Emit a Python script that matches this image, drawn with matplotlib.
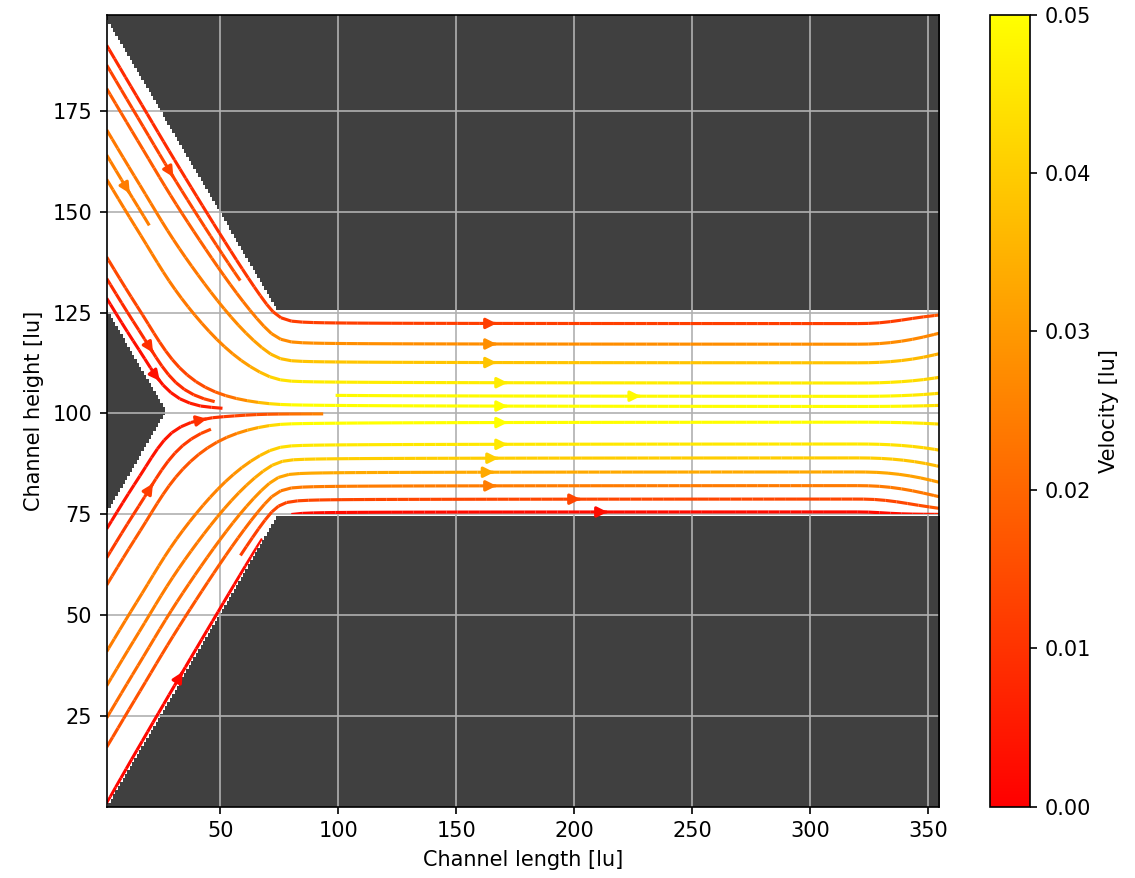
import numpy as np
import matplotlib
matplotlib.use("Agg")
import matplotlib.pyplot as plt
from matplotlib.colors import Normalize, ListedColormap
from matplotlib.patches import Polygon

# ---- domain and junction geometry (lattice units) ----
x_limits = [1.9, 354.5]
y_limits = [2.4, 198.9]
y_center = 100.25        # symmetry line of the junction
half_width = 25.25       # half height of the outlet channel
wedge_tip_x = 27.0       # end of the dividing wedge between the inlets
outer_wall_offset = 0.75 # lower outer inlet wall: y = x + offset
u_center = 0.05          # centreline velocity in the outlet channel

# streamline seed points: outlet channel first, then the two inlets
seed_x = [160, 160, 160, 160, 160, 160, 160, 160, 160, 160, 205, 222,
          3.5, 3.5, 3.5, 3.5, 3.5, 3.5, 40, 47, 12, 16, 62, 40,
          3.5, 3.5, 3.5, 3.5, 3.5, 3.5, 12,
          3.5, 3.5, 3.5, 20, 20]
seed_y = [75.5, 82.0, 92.3, 97.7, 101.8, 104.3, 107.6, 112.6, 117.2, 122.3,
          78.7, 88.9,
          4.9, 12.8, 26.0, 35.1, 43.8, 57.0, 87.6, 71.9, 37.2, 84.5, 81.0,
          101.2,
          193.5, 184.8, 171.5, 162.5, 153.8, 140.5, 151.0,
          131.9, 127.0, 65.7, 115.0, 85.0]

# colour scale of the velocity magnitude
v_limits = [0.0, 0.05]
cbar_ticks = [0.00, 0.01, 0.02, 0.03, 0.04, 0.05]
x_ticks = [50, 100, 150, 200, 250, 300, 350]
y_ticks = [25, 50, 75, 100, 125, 150, 175]

wall_color = "#404040"
corner_x = y_center - half_width - outer_wall_offset


def fluid_mask(X, Y, grow=0.0):
    d = np.abs(Y - y_center)
    outer = d <= np.maximum(half_width, y_center - outer_wall_offset - X) + grow
    wedge = (X > wedge_tip_x - grow) | (d >= wedge_tip_x - X - grow)
    return outer & wedge


def smin(a, b, k):
    return 0.5 * (a + b - np.sqrt((a - b) ** 2 + k ** 2))


def smoothstep(t):
    t = np.clip(t, 0.0, 1.0)
    return t * t * (3 - 2 * t)


# ---- stream function of the merging flow ----
xv = np.linspace(x_limits[0], x_limits[1], 354)
yv = np.linspace(y_limits[0], y_limits[1], 394)
X, Y = np.meshgrid(xv, yv)
D = np.abs(Y - y_center)
Ym = y_center - D                      # folded onto the lower half

lower = smin(X + outer_wall_offset, y_center - half_width, 4.0)
upper = smin(X + y_center - wedge_tip_x, y_center, 10.0)
s = np.clip((Ym - lower) / (upper - lower), 0.0, 1.0)

g_inlet = 3 * s**2 - 2 * s**3
g_channel = 1.5 * s**2 - 0.5 * s**3
g_outlet = s
w_merge = smoothstep((X - 15.0) / 55.0)
w_exit = 0.5 * np.clip((X - 322.0) / (x_limits[1] - 322.0), 0, 1) ** 2
G = (1 - w_merge) * g_inlet + w_merge * g_channel
G = (1 - w_exit) * G + w_exit * g_outlet

Q = (2.0 / 3.0) * u_center * 2 * half_width
psi_half = 0.5 * Q * G
psi = np.where(Y < y_center, psi_half, Q - psi_half)

dpsi_dy, dpsi_dx = np.gradient(psi, yv, xv)
inside = fluid_mask(X, Y, grow=1.0)
U = np.ma.masked_where(~inside, dpsi_dy)
V = np.ma.masked_where(~inside, -dpsi_dx)
speed = np.ma.sqrt(U**2 + V**2)

# ---- wall image on the lattice ----
xc = np.arange(2, 355)
yc = np.arange(2, 200)
XC, YC = np.meshgrid(xc, yc)
walls = (~fluid_mask(XC, YC)).astype(float)

fig = plt.figure(figsize=(1135 / 150, 878 / 150), dpi=150)
ax = fig.add_axes([0.0940, 0.0812, 0.7333, 0.9021])
cax = fig.add_axes([0.8722, 0.0812, 0.0352, 0.9021])

ax.imshow(walls, origin="lower", cmap=ListedColormap(["white", wall_color]),
          extent=[xc[0] - 0.5, xc[-1] + 0.5, yc[0] - 0.5, yc[-1] + 0.5],
          interpolation="nearest", aspect="auto", zorder=0)

strm = ax.streamplot(xv, yv, U, V, color=speed, cmap="autumn",
                     norm=Normalize(*v_limits), density=2.5, linewidth=1.5,
                     start_points=np.column_stack([seed_x, seed_y]))

# keep the streamlines inside the fluid region
yb = y_center - half_width
yt = y_center + half_width
fluid_outline = Polygon(
    [(0, outer_wall_offset), (corner_x, yb), (400, yb), (400, yt),
     (corner_x, yt), (0, 2 * y_center - outer_wall_offset),
     (0, y_center + wedge_tip_x), (wedge_tip_x, y_center),
     (0, y_center - wedge_tip_x)],
    closed=True, transform=ax.transData, facecolor="none", edgecolor="none")
strm.lines.set_clip_path(fluid_outline)

ax.set_xlim(*x_limits)
ax.set_ylim(*y_limits)
ax.set_xticks(x_ticks)
ax.set_yticks(y_ticks)
ax.grid(True, color="#b0b0b0", linewidth=0.8)
ax.set_xlabel("Channel length [lu]")
ax.set_ylabel("Channel height [lu]")

cb = fig.colorbar(strm.lines, cax=cax)
cb.set_ticks(cbar_ticks)
cb.ax.set_yticklabels([f"{t:.2f}" for t in cbar_ticks])
cb.set_label("Velocity [lu]")

fig.savefig("out.png", dpi=150)
